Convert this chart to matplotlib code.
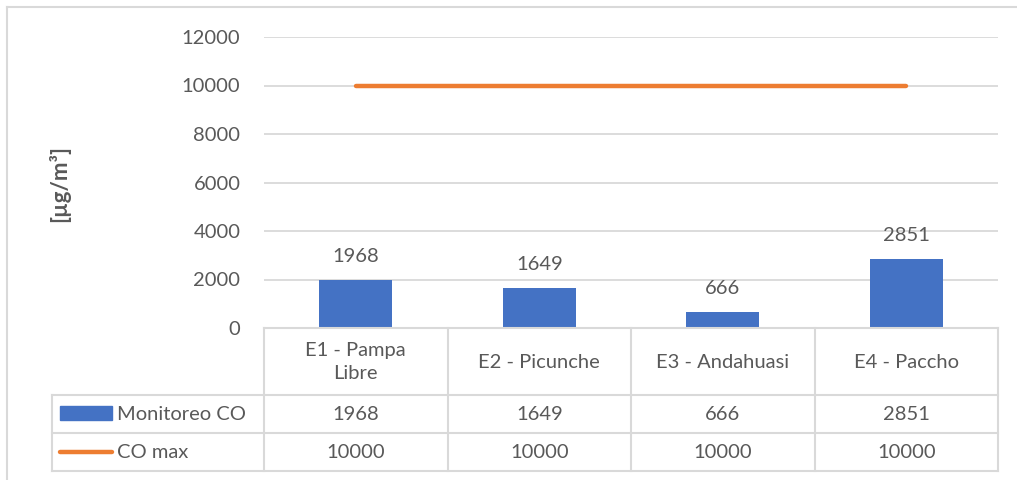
import matplotlib
matplotlib.use("Agg")
import matplotlib.pyplot as plt
from matplotlib.transforms import blended_transform_factory
from matplotlib.lines import Line2D
from matplotlib.patches import Rectangle

categories = ["E1 - Pampa\nLibre", "E2 - Picunche", "E3 - Andahuasi", "E4 - Paccho"]
monitoreo = [1968, 1649, 666, 2851]
co_max = [10000, 10000, 10000, 10000]
series_names = ["Monitoreo CO", "CO max"]
yticks = [0, 2000, 4000, 6000, 8000, 10000, 12000]

W, H = 1017, 480
plt.rcParams['font.family'] = ['Lato', 'DejaVu Sans']
TXT = '#595959'
GRID = '#d9d9d9'
BLUE = '#4472c4'
ORANGE = '#ed7d31'
FS = 14.5

fig = plt.figure(figsize=(W/100, H/100), dpi=100)
fx = lambda px: px / W
fy = lambda py: 1 - py / H

ax = fig.add_axes([fx(264), fy(328), fx(998) - fx(264), fy(37) - fy(328)])
n = len(categories)
xs = list(range(n))
ax.bar(xs, monitoreo, width=0.4, color=BLUE, zorder=3)
ax.plot(xs, co_max, color=ORANGE, lw=3.2, solid_capstyle='round', zorder=4)
for x, v in zip(xs, monitoreo):
    ax.annotate(str(v), (x, v), xytext=(0, 11), textcoords='offset points',
                ha='center', va='bottom', fontsize=FS, color=TXT)
ax.set_xlim(-0.5, n - 0.5)
ax.set_ylim(0, 12000)
ax.set_yticks(yticks)
ax.set_yticklabels([str(t) for t in yticks], fontsize=FS, color=TXT)
ax.tick_params(axis='y', length=0, pad=17)
ax.set_xticks([])
ax.grid(axis='y', color=GRID, lw=1.3, zorder=0)
for s in ax.spines.values():
    s.set_visible(False)
ax.set_ylabel("[µg/m³]", fontsize=16, fontweight='bold', color=TXT, labelpad=0)
ax.yaxis.set_label_coords(fx(70), fy(184), transform=fig.transFigure)

# Data table
tr = blended_transform_factory(ax.transData, fig.transFigure)
y_rows = [328, 395, 433, 471]
lkw = dict(color=GRID, lw=1.5, clip_on=False)
fig.add_artist(Line2D([-0.5, n - 0.5], [fy(328)] * 2, transform=tr, **lkw))
for yy in y_rows[1:]:
    fig.add_artist(Line2D([fx(52), fx(998)], [fy(yy)] * 2, transform=fig.transFigure, **lkw))
for i in range(n + 1):
    fig.add_artist(Line2D([i - 0.5] * 2, [fy(328), fy(471)], transform=tr, **lkw))
fig.add_artist(Line2D([fx(52)] * 2, [fy(395), fy(471)], transform=fig.transFigure, **lkw))

for x, c in zip(xs, categories):
    fig.text(x, fy(362), c, transform=tr, ha='center', va='center',
             fontsize=FS, color=TXT, linespacing=1.45)
rows = [monitoreo, co_max]
row_c = [414, 452]
for r, yc in zip(rows, row_c):
    for x, v in zip(xs, r):
        fig.text(x, fy(yc), str(v), transform=tr, ha='center', va='center',
                 fontsize=FS, color=TXT)
fig.add_artist(Rectangle((fx(60), fy(419.5)), fx(112) - fx(60), fy(406) - fy(419.5),
                         transform=fig.transFigure, color=BLUE))
fig.add_artist(Line2D([fx(60), fx(112)], [fy(452)] * 2, transform=fig.transFigure,
                      color=ORANGE, lw=3.2, solid_capstyle='round'))
for name, yc in zip(series_names, row_c):
    fig.text(fx(117), fy(yc), name, ha='left', va='center', fontsize=FS, color=TXT)

# outer border (top and left visible)
fig.add_artist(Line2D([fx(7), 1.0], [fy(7)] * 2, transform=fig.transFigure, color=GRID, lw=1.5))
fig.add_artist(Line2D([fx(7)] * 2, [fy(7), 0.0], transform=fig.transFigure, color=GRID, lw=1.5))

fig.savefig("out.png", dpi=100)
